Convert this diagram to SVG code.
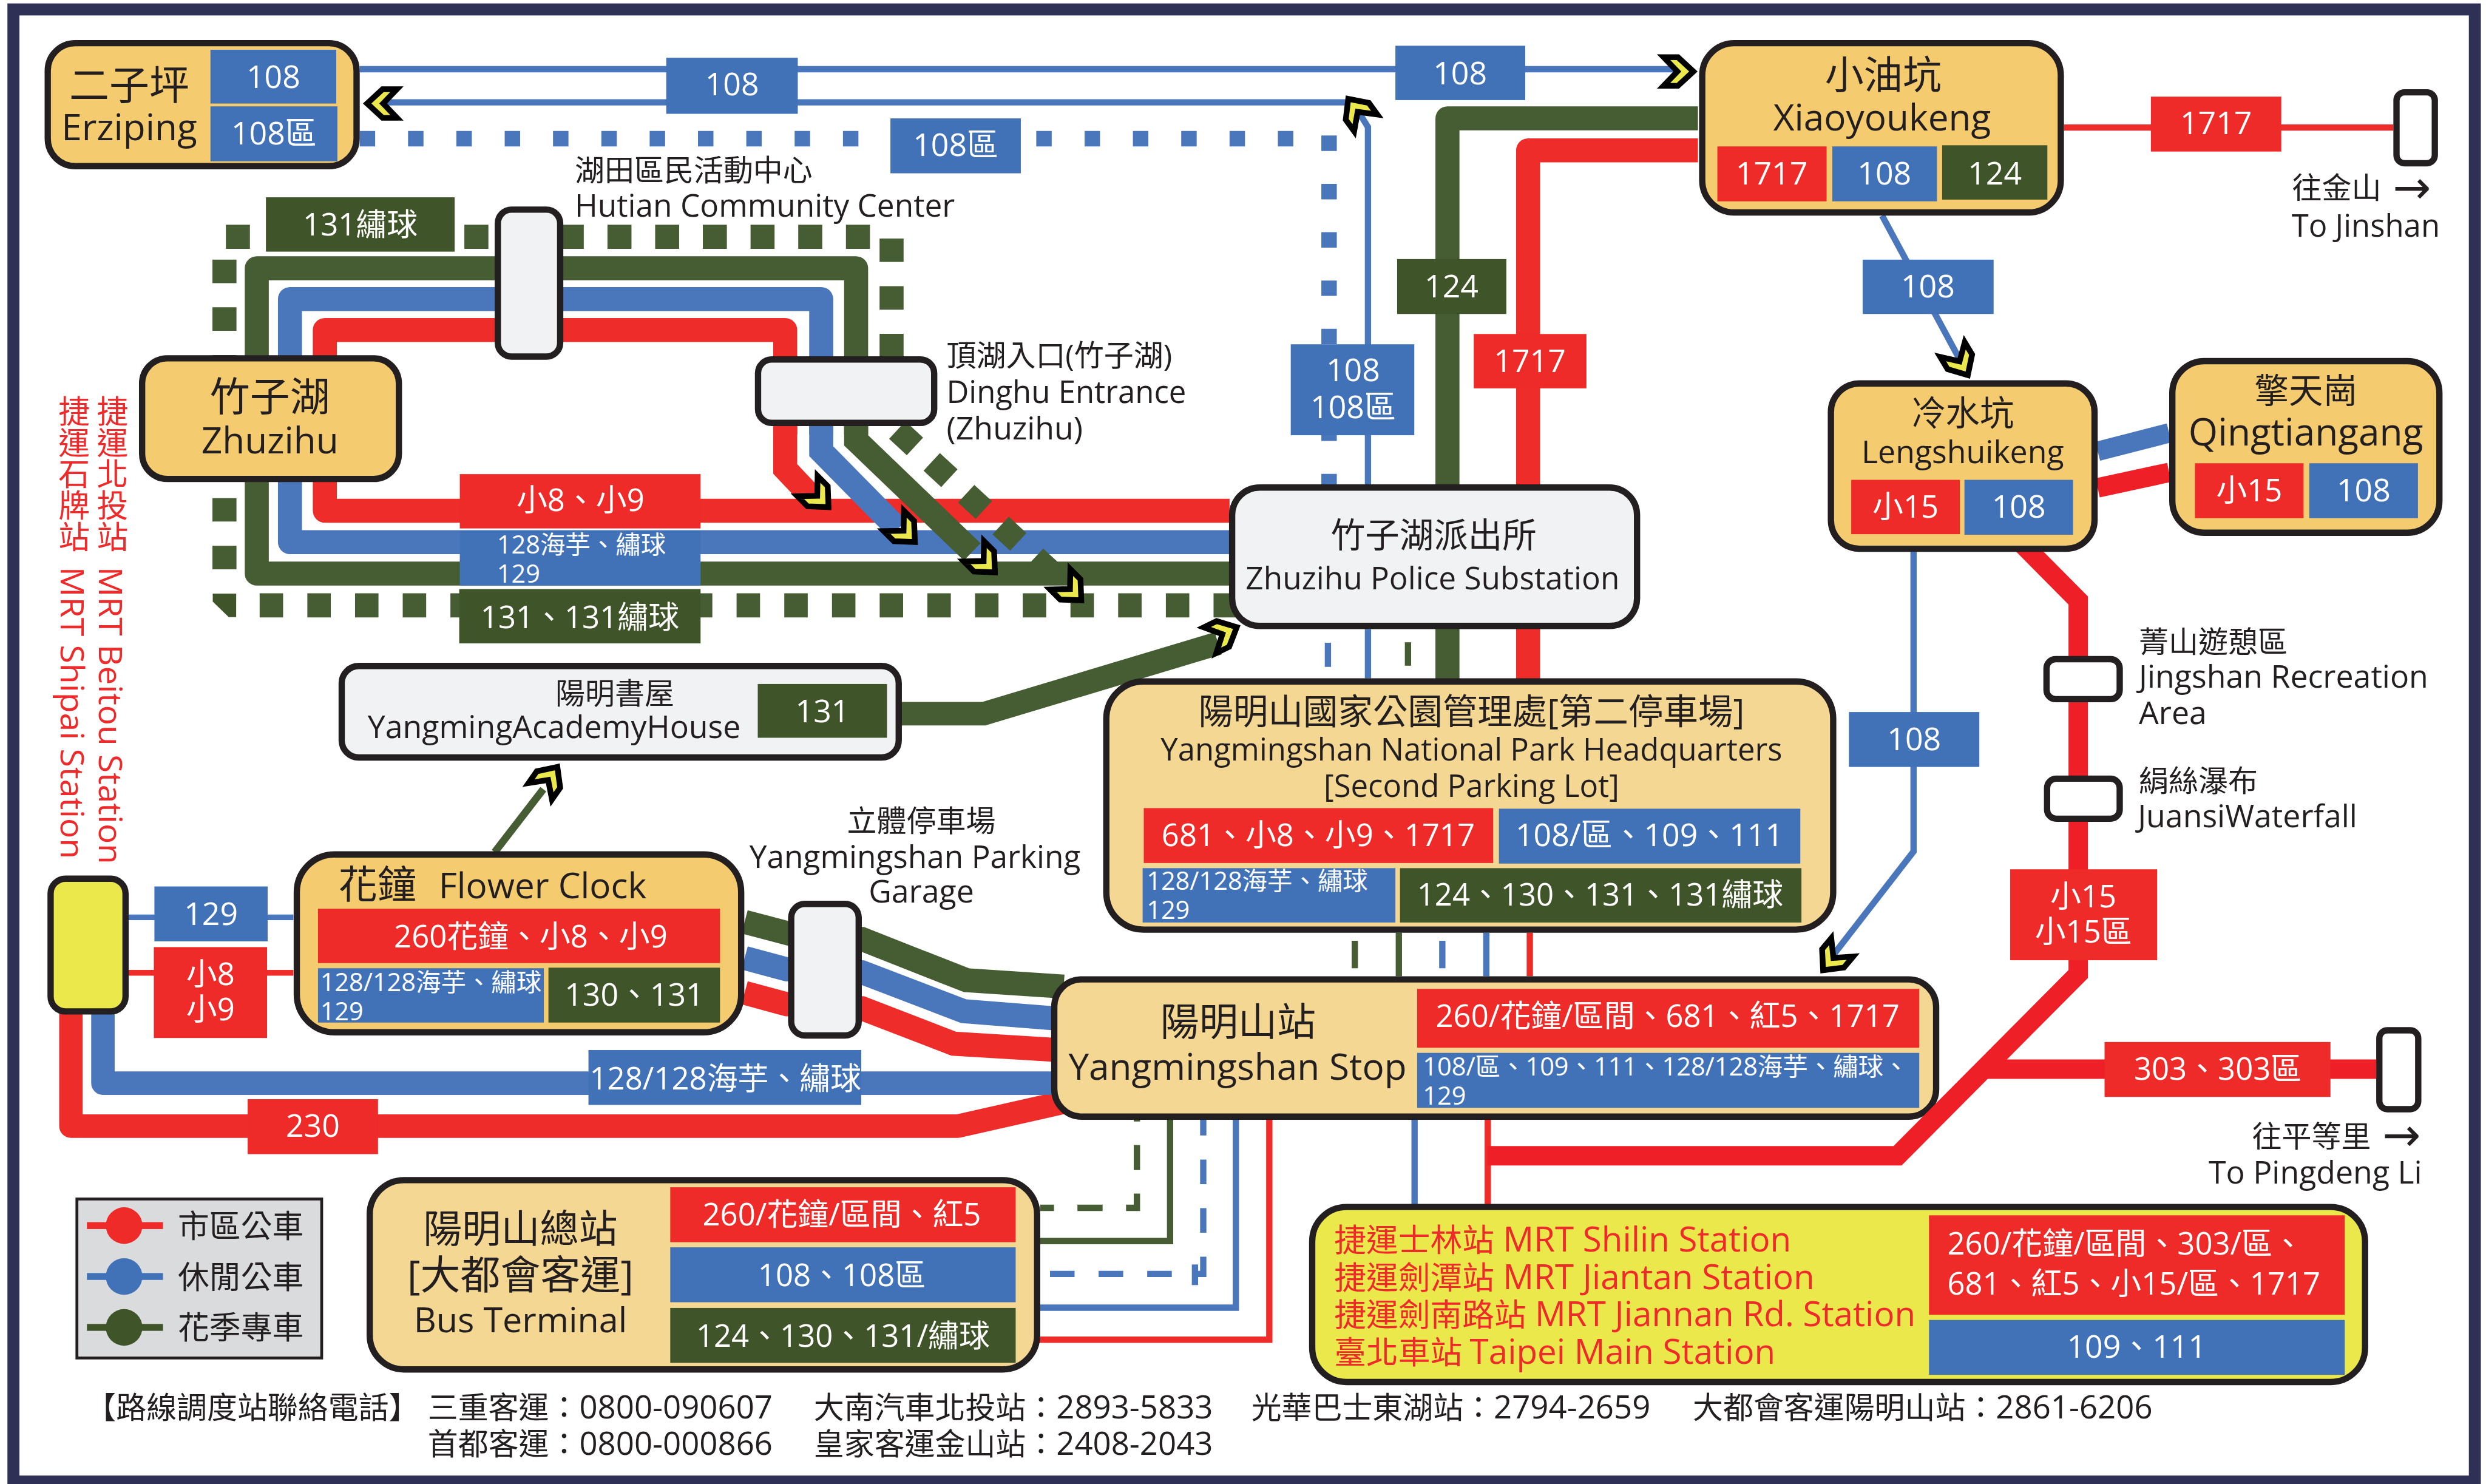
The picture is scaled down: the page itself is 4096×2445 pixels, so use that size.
<svg xmlns="http://www.w3.org/2000/svg" xmlns:xlink="http://www.w3.org/1999/xlink" width="4096" height="2445" viewBox="0 0 4096 2445">
<style>
text{font-family:"Open Sans","Noto Sans CJK TC","Noto Sans",sans-serif;fill:#231f20;font-size:54px}
.m{text-anchor:middle}
.w{fill:#fff}
.s44{font-size:44px}
.s52{font-size:52px}
.s53{font-size:53px}
.s55{font-size:55px}
.s56{font-size:56px}
.s60{font-size:60px}
.s61{font-size:61px}
.s62{font-size:62px}
.s64{font-size:64px}
.s66{font-size:66px}
.s68{font-size:68px}
.s70{font-size:70px}
.r{fill:#ee2a2b}
.ln{fill:none;stroke-linejoin:miter}
.rj{stroke-linejoin:round}
.R{stroke:#ee2c2a}.B{stroke:#4a76bb}.G{stroke:#465c32}.R2{stroke:#ee1f26}
.t{stroke-width:11}.k{stroke-width:42}.h{stroke-width:34}
.fr{fill:#ee2b29}.fb{fill:#4172b8}.fg{fill:#3f5529}
.box{stroke:#231f20;stroke-width:11}
.o{fill:#f5cb6f}.p{fill:#f5d794}.g{fill:#f1f2f4}.y{fill:#ebe84c}.wh{fill:#fff}
.ar{font-family:"DejaVu Sans",sans-serif;font-size:80px}
</style>
<defs>
<path id="chev" d="M-6,0L-33,-25H-58L-34,0L-58,25H-33Z" fill="#ebe84c" stroke="#000" stroke-width="10" stroke-miterlimit="6"/>
</defs>
<g transform="scale(0.94226)">
<rect id="frame" x="23.500" y="16.500" width="4304" height="2574" fill="#fff" stroke="#2e3055" stroke-width="21"/>
<g id="connectors">
<path class="ln B t" d="M629,121H2950M670,179H2360M2392,850V222L2375,195"/>
<path class="ln B" stroke-width="27" stroke-dasharray="27 57.5" d="M629,242.500H2270M2324,237V850"/>
<path class="ln B t" d="M2322,1124V1166M2392,1100V1186"/>
<path class="ln G t" d="M2462,1123V1164"/>
<path class="ln G k rj" d="M2969,207H2531V1190"/>
<path class="ln R k rj" d="M2969,263H2672V1190"/>
<path class="ln R t" d="M3609,223H4185"/>
<path class="ln B t" d="M3291,377L3428,631M3346,965V1489L3204,1672"/>
<path class="ln G" stroke-width="42" stroke-dasharray="42 41.400" d="M395,414H1530"/>
<path class="ln G" stroke-width="42" stroke-dasharray="41 42.400" d="M1559,417V630M392.500,454V1000M454,1058.500H2170"/>
<polygon points="372,1038 413,1038 413,1079 400,1079 372,1052" class="fg"/>
<path class="ln G k rj" d="M1497,760V469H449V1003H2150"/>
<path class="ln B k rj" d="M1436,760V523H507V948H2150"/>
<path class="ln R k rj" d="M1373,760V577H568V893H2150"/>
<path class="ln R k" d="M1373,745V820L1425,875"/>
<path class="ln B k" d="M1436,745V789L1570,925"/>
<path class="ln G k" d="M1497,745V770L1700,965"/>
<path class="ln G" stroke-width="42" stroke-dasharray="42 40" d="M1569,752L1845,1007"/>
<path class="ln G" stroke-width="41" d="M1570,1248H1720L2130,1125"/>
<path class="ln G" stroke-width="13" d="M865,1490L950,1380"/>
<path class="ln B" stroke-width="10" d="M225,1604H513"/>
<path class="ln R" stroke-width="10" d="M225,1701H513"/>
<path class="ln R rj" stroke-width="41" d="M124,1770V1969H1675L1870,1925"/>
<path class="ln B rj" stroke-width="41" d="M180,1770V1894H1845"/>
<path class="ln G" stroke-width="42" d="M1302,1612L1420,1643L1507,1642L1690,1714L1860,1725"/>
<path class="ln B" stroke-width="42" d="M1302,1675L1376,1695L1507,1700L1685,1768L1850,1781"/>
<path class="ln R" stroke-width="42" d="M1302,1736L1376,1756L1507,1763L1668,1825L1850,1836"/>
<path class="ln G t" d="M2369,1645V1693M2446,1631V1707"/>
<path class="ln B t" d="M2522,1645V1693M2599,1631V1707"/>
<path class="ln R t" d="M2675,1631V1707"/>
<path class="ln G t" stroke-dasharray="44 41" stroke-dashoffset="20" d="M1819,2112H1988V1958"/>
<path class="ln G t" d="M1815,2170H2046V1958"/>
<path class="ln B t" stroke-dasharray="43 42" stroke-dashoffset="64" d="M1815,2227.500H2104V1958"/>
<path class="ln B t" d="M2089.500,2211V2247"/>
<path class="ln B t" d="M1815,2286.500H2161V1958"/>
<path class="ln R t" d="M1815,2342.500H2219.500V1958"/>
<path class="ln B t" d="M2473.500,1958V2110"/>
<path class="ln R t" d="M2601.500,1958V2110"/>
<path class="ln B" stroke-width="34" d="M3668,789L3793,757"/>
<path class="ln R2 h" d="M3668,853L3793,826"/>
<path class="ln R2 h" d="M3520,935L3634,1050V1610"/>
<path class="ln R2 h" d="M3475,1869.500H4155"/>
</g>
<g id="stop-hutian"><rect class="box g" x="870.500" y="366.500" width="109" height="257" rx="24"/>
<text class="s52" x="1005" y="316">湖田區民活動中心</text><text x="1005" y="379" style="font-size:54.5px">Hutian Community Center</text></g>
<g id="stop-dinghu"><rect class="box g" x="1325.500" y="628.500" width="308" height="111" rx="24"/>
<text class="s52" x="1655" y="640">頂湖入口(竹子湖)</text><text class="s54" x="1655" y="705">Dinghu Entrance</text><text class="s55" x="1655" y="768">(Zhuzihu)</text></g>
<g id="node-zhuzihu"><rect class="box o" x="248.500" y="626.500" width="449" height="211" rx="44"/>
<text class="m s70" x="472" y="718">竹子湖</text><text class="m s64" x="472" y="793">Zhuzihu</text></g>
<g id="node-erziping"><rect class="box o" x="83.500" y="75.500" width="540" height="215" rx="48"/>
<rect class="fb" x="368" y="87" width="220" height="94"/><rect class="fb" x="368" y="186" width="222" height="96"/>
<text class="m s70" x="226" y="174">二子坪</text><text class="m s64" x="226" y="245">Erziping</text>
<text class="m w s55" x="478" y="154">108</text><text class="m w s55" x="479" y="253">108區</text></g>
<g id="node-xiaoyoukeng"><rect class="box o" x="2976.500" y="75.500" width="627" height="296" rx="56"/>
<rect class="fr" x="3003" y="256" width="191" height="96"/><rect class="fb" x="3204" y="256" width="183" height="96"/><rect class="fg" x="3396" y="254" width="184" height="95"/>
<text class="m s68" x="3293" y="155">小油坑</text><text class="m s64" x="3291" y="228">Xiaoyoukeng</text>
<text class="m w s55" x="3098" y="323">1717</text><text class="m w s55" x="3295" y="323">108</text><text class="m w s55" x="3488" y="323">124</text></g>
<g id="node-lengshuikeng"><rect class="box o" x="3201.500" y="670.500" width="461" height="289" rx="50"/>
<rect class="fr" x="3237" y="839" width="190" height="95"/><rect class="fb" x="3435" y="839" width="190" height="96"/>
<text class="m s60" x="3432" y="744">冷水坑</text><text class="m s55" x="3432" y="810">Lengshuikeng</text>
<text class="m w" x="3332" y="905">小15</text><text class="m w s55" x="3530" y="905">108</text></g>
<g id="node-qingtiangang"><rect class="box o" x="3798.500" y="631.500" width="467" height="300" rx="56"/>
<rect class="fr" x="3838" y="810" width="190" height="96"/><rect class="fb" x="4038" y="810" width="190" height="96"/>
<text class="m s60" x="4032" y="705">擎天崗</text><text class="m s66" x="4032" y="779">Qingtiangang</text>
<text class="m w" x="3933" y="877">小15</text><text class="m w s55" x="4133" y="877">108</text></g>
<g id="stop-jinshan"><rect class="box wh" x="4190.500" y="161.500" width="67" height="124" rx="14"/>
<text class="s52" x="4008" y="347">往金山</text><text class="ar" x="4184" y="356">→</text><text x="4007" y="414">To Jinshan</text></g>
<g id="stop-jingshan"><rect class="box wh" x="3578.500" y="1152.500" width="128" height="70" rx="16"/>
<text class="s52" x="3740" y="1141">菁山遊憩區</text><text class="s55" x="3740" y="1202">Jingshan Recreation</text><text class="s55" x="3740" y="1266">Area</text></g>
<g id="stop-juansi"><rect class="box wh" x="3579.500" y="1361.500" width="127" height="70" rx="16"/>
<text class="s52" x="3740" y="1384">絹絲瀑布</text><text class="s55" x="3738" y="1446">JuansiWaterfall</text></g>
<g id="stop-pingdeng"><rect class="box wh" x="4160.500" y="1801.500" width="68" height="138" rx="14"/>
<text class="s52" x="3938" y="2006">往平等里</text><text class="ar" x="4166" y="2012">→</text><text class="s55" x="3862" y="2069">To Pingdeng Li</text></g>
<g id="node-police"><rect class="box g" x="2154.500" y="852.500" width="708" height="242" rx="48"/>
<text class="m s60" x="2507" y="957">竹子湖派出所</text><text class="m" style="font-size:54.5px" x="2505" y="1031">Zhuzihu Police Substation</text></g>
<g id="node-academy"><rect class="box g" x="597.500" y="1164.500" width="974" height="160" rx="30"/>
<rect class="fg" x="1325" y="1196" width="226" height="94"/>
<text class="m s52" x="1075" y="1231">陽明書屋</text><text class="m s55" x="969" y="1291">YangmingAcademyHouse</text>
<text class="m w s55" x="1438" y="1263">131</text></g>
<g id="stop-garage"><rect class="box g" x="1383.500" y="1580.500" width="118" height="230" rx="24"/>
<text class="m s52" x="1611" y="1454">立體停車場</text><text class="m" style="font-size:54.5px" x="1600" y="1518">Yangmingshan Parking</text><text class="m s55" x="1611" y="1578">Garage</text></g>
<g id="node-mrt-north"><rect class="box y" x="88.500" y="1536.500" width="131" height="232" rx="26"/>
<text class="r s55" writing-mode="vertical-rl" x="194" y="691">捷運北投站</text><text class="r" style="font-size:57px" textLength="520" lengthAdjust="spacingAndGlyphs" transform="translate(173,991) rotate(90)">MRT Beitou Station</text>
<text class="r s55" writing-mode="vertical-rl" x="127" y="691">捷運石牌站</text><text class="r" style="font-size:57px" textLength="511" lengthAdjust="spacingAndGlyphs" transform="translate(106,991) rotate(90)">MRT Shipai Station</text></g>
<g id="node-flower"><rect class="box o" x="519" y="1494" width="777" height="311" rx="66"/>
<rect class="fr" x="556" y="1589" width="703" height="95"/><rect class="fb" x="556" y="1693" width="395" height="95"/><rect class="fg" x="959" y="1692" width="300" height="96"/>
<text class="s68" x="592" y="1571">花鐘</text><text class="s62" x="767" y="1571">Flower Clock</text>
<text class="m w" x="928" y="1657">260花鐘、小8、小9</text>
<text class="w s44" x="560" y="1733">128/128海芋、繡球</text><text class="w s44" x="560" y="1784">129</text>
<text class="m w s55" x="1109" y="1759">130、131</text></g>
<g id="node-hq"><rect class="box p" x="1934.500" y="1191.500" width="1271" height="434" rx="65"/>
<rect class="fr" x="2000" y="1413" width="611" height="96"/><rect class="fb" x="2621" y="1414" width="527" height="96"/><rect class="fb" x="1998" y="1518" width="442" height="95"/><rect class="fg" x="2448" y="1518" width="702" height="95"/>
<text class="m s61" x="2573" y="1266">陽明山國家公園管理處[第二停車場]</text><text class="m" x="2573" y="1330">Yangmingshan National Park Headquarters</text><text class="m" x="2573" y="1393">[Second Parking Lot]</text>
<text class="m w" x="2305" y="1479">681、小8、小9、1717</text><text class="m w s55" x="2884" y="1479">108/區、109、111</text>
<text class="w s44" x="2005" y="1556">128/128海芋、繡球</text><text class="w s44" x="2005" y="1607">129</text>
<text class="m w" x="2798" y="1583">124、130、131、131繡球</text></g>
<g id="node-stop"><rect class="box p" x="1843.500" y="1712.500" width="1542" height="240" rx="48"/>
<rect class="fr" x="2478" y="1729" width="878" height="103"/><rect class="fb" x="2478" y="1841" width="878" height="96"/>
<text class="m s68" x="2165" y="1811">陽明山站</text><text class="m s64" x="2164" y="1888">Yangmingshan Stop</text>
<text class="m w" x="2916" y="1796">260/花鐘/區間、681、紅5、1717</text>
<text class="w s44" x="2488" y="1881">108/區、109、111、128/128海芋、繡球、</text><text class="w s44" x="2488" y="1932">129</text></g>
<g id="node-terminal"><rect class="box p" x="646.500" y="2063.500" width="1167" height="331" rx="60"/>
<rect class="fr" x="1172" y="2076" width="604" height="96"/><rect class="fb" x="1172" y="2181" width="604" height="96"/><rect class="fg" x="1172" y="2287" width="604" height="96"/>
<text class="m s68" x="910" y="2172">陽明山總站</text><text class="m s70" x="910" y="2254">[大都會客運]</text><text class="m s61" x="910" y="2330">Bus Terminal</text>
<text class="m w" x="1472" y="2143">260/花鐘/區間、紅5</text><text class="m w" x="1472" y="2249">108、108區</text><text class="m w" x="1474" y="2355">124、130、131/繡球</text></g>
<g id="node-mrt-south"><rect class="box y" x="2294.500" y="2110.500" width="1841" height="306" rx="60"/>
<rect class="fr" x="3373" y="2125" width="727" height="174"/><rect class="fb" x="3373" y="2308" width="727" height="96"/>
<text class="r s56" x="2333" y="2188">捷運士林站<tspan class="s60" x="2628">MRT Shilin Station</tspan></text><text class="r s56" x="2333" y="2254">捷運劍潭站<tspan class="s60" x="2628">MRT Jiantan Station</tspan></text><text class="r s56" x="2333" y="2319">捷運劍南路站<tspan class="s60" x="2684">MRT Jiannan Rd. Station</tspan></text><text class="r s56" x="2333" y="2385">臺北車站<tspan class="s60" x="2570">Taipei Main Station</tspan></text>
<text class="w" x="3405" y="2194">260/花鐘/區間、303/區、</text><text class="w" x="3405" y="2264">681、紅5、小15/區、1717</text>
<text class="m w s55" x="3736" y="2374">109、111</text></g>
<g id="connectors-over">
<path class="ln R2 h" d="M3634,1600V1703L3318,2021H2601"/>
</g>
<g id="route-labels">
<rect class="fb" x="1165" y="101" width="230" height="98"/><text class="m w s55" x="1280" y="167">108</text>
<rect class="fb" x="2440" y="80" width="227" height="95"/><text class="m w s55" x="2553" y="147">108</text>
<rect class="fb" x="1557" y="207" width="228" height="96"/><text class="m w s55" x="1671" y="273">108區</text>
<rect class="fg" x="465" y="345" width="330" height="95"/><text class="m w" x="630" y="412">131繡球</text>
<rect class="fr" x="804" y="829" width="421" height="95"/><text class="m w" x="1015" y="894">小8、小9</text>
<rect class="fb" x="804" y="928" width="421" height="96"/><text class="w s44" x="869" y="968">128海芋、繡球</text><text class="w s44" x="869" y="1019">129</text>
<rect class="fg" x="803" y="1030" width="422" height="95"/><text class="m w" x="1014" y="1098">131、131繡球</text>
<rect class="fb" x="2257" y="602" width="216" height="159"/><text class="m w s55" x="2366" y="666">108</text><text class="m w s55" x="2366" y="731">108區</text>
<rect class="fg" x="2443" y="453" width="191" height="96"/><text class="m w s55" x="2538" y="520">124</text>
<rect class="fr" x="2577" y="584" width="197" height="95"/><text class="m w s55" x="2675" y="651">1717</text>
<rect class="fr" x="3761" y="169" width="228" height="96"/><text class="m w s55" x="3875" y="235">1717</text>
<rect class="fb" x="3257" y="454" width="229" height="95"/><text class="m w s55" x="3371" y="520">108</text>
<rect class="fb" x="3233" y="1245" width="228" height="96"/><text class="m w s55" x="3347" y="1312">108</text>
<rect class="fr" x="3515" y="1520" width="257" height="159"/><text class="m w" x="3643" y="1587">小15</text><text class="m w" x="3643" y="1648">小15區</text>
<rect class="fr" x="3680" y="1822" width="395" height="96"/><text class="m w" x="3878" y="1888">303、303區</text>
<rect class="fb" x="270" y="1550" width="198" height="96"/><text class="m w s55" x="369" y="1617">129</text>
<rect class="fr" x="269" y="1656" width="198" height="159"/><text class="m w" x="368" y="1722">小8</text><text class="m w" x="368" y="1784">小9</text>
<rect class="fb" x="1029" y="1836" width="477" height="96"/><text class="w" x="1031" y="1905">128/128海芋、繡球</text>
<rect class="fr" x="433" y="1922" width="228" height="96"/><text class="m w s55" x="547" y="1988">230</text>
</g>
<g id="arrowheads">
<use href="#chev" transform="translate(636,181) rotate(180)"/>
<use href="#chev" transform="translate(2967,125)"/>
<use href="#chev" transform="translate(2354,168) rotate(234)"/>
<use href="#chev" transform="translate(3444,661) rotate(59)"/>
<use href="#chev" transform="translate(1453,891) rotate(45)"/>
<use href="#chev" transform="translate(1604,952) rotate(45)"/>
<use href="#chev" transform="translate(1744,1005) rotate(45)"/>
<use href="#chev" transform="translate(1895,1054) rotate(45)"/>
<use href="#chev" transform="translate(2168,1094) rotate(-26)"/>
<use href="#chev" transform="translate(978,1336) rotate(-55)"/>
<use href="#chev" transform="translate(3184,1701) rotate(130)"/>
</g>
<g id="legend">
<rect x="134.500" y="2096.500" width="428" height="278" fill="#d9dbdd" stroke="#231f20" stroke-width="5"/>
<rect class="fr" x="152" y="2137" width="133" height="12"/><circle class="fr" cx="217" cy="2143" r="32"/>
<rect class="fb" x="152" y="2226" width="133" height="12"/><circle class="fb" cx="217" cy="2232" r="32"/>
<rect class="fg" x="152" y="2315" width="133" height="12"/><circle class="fg" cx="217" cy="2321" r="32"/>
<text class="s55" x="311" y="2164">市區公車</text><text class="s55" x="311" y="2253">休閒公車</text><text class="s55" x="311" y="2341">花季專車</text>
</g>
<g id="footer">
<text class="s53" x="150" y="2480">【路線調度站聯絡電話】</text>
<text class="s53" x="748" y="2480">三重客運：<tspan class="s56">0800-090607</tspan></text><text class="s53" x="1423" y="2480">大南汽車北投站：<tspan class="s56">2893-5833</tspan></text><text class="s53" x="2188" y="2480">光華巴士東湖站：<tspan class="s56">2794-2659</tspan></text><text class="s53" x="2960" y="2480">大都會客運陽明山站：<tspan class="s56">2861-6206</tspan></text>
<text class="s53" x="748" y="2544">首都客運：<tspan class="s56">0800-000866</tspan></text><text class="s53" x="1423" y="2544">皇家客運金山站：<tspan class="s56">2408-2043</tspan></text>
</g>
</g>
</svg>
